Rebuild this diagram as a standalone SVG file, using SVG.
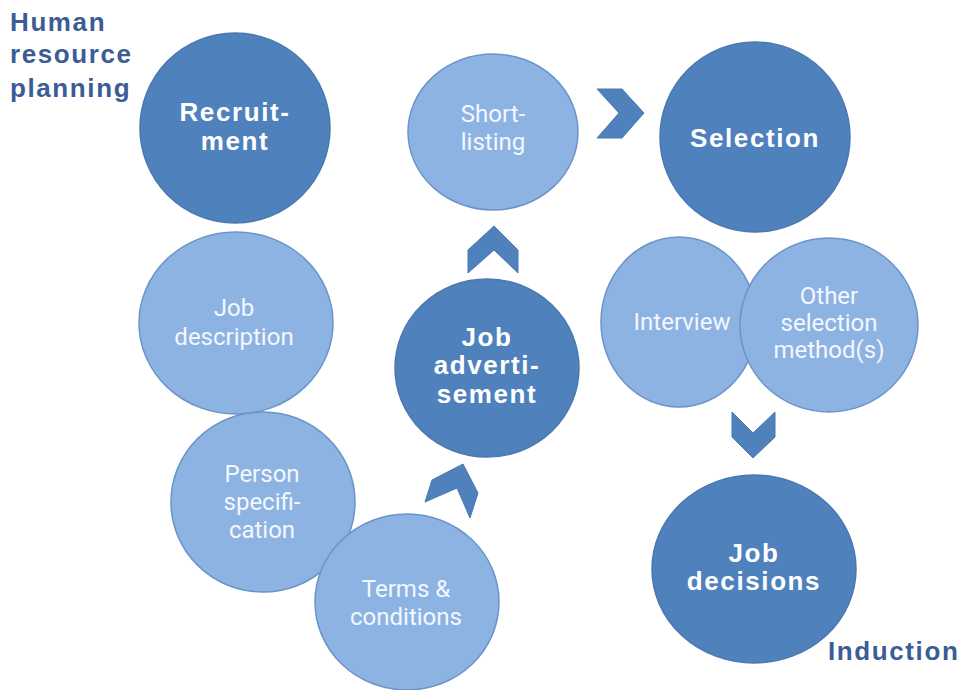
<svg xmlns="http://www.w3.org/2000/svg" width="963" height="690" viewBox="0 0 963 690">
<style>
.dark{fill:#4f81bd;stroke:#4a78b0;stroke-width:1.5}
.light{fill:#8db3e2;stroke:#6a94c9;stroke-width:1.5}
.chev{fill:#4f81bd;stroke:#4a78b0;stroke-width:1}
.bt{font-family:"Liberation Sans",Arial,sans-serif;font-weight:bold;font-size:26px;fill:#ffffff;text-anchor:middle;letter-spacing:1.6px}
.lt{font-family:Roboto,"Liberation Sans",sans-serif;font-weight:400;font-size:24px;fill:#f3f7ff;text-anchor:middle}
.title{font-family:"Liberation Sans",Arial,sans-serif;font-weight:bold;font-size:26px;fill:#3b5c94;letter-spacing:1.6px}
</style>
<rect width="963" height="690" fill="#ffffff"/>
<g id="title-hrp">
<text class="title" x="10" y="31">Human</text>
<text class="title" x="10" y="63">resource</text>
<text class="title" x="10" y="97">planning</text>
</g>
<g id="recruitment">
<circle class="dark" cx="235" cy="128" r="95"/>
<text class="bt" x="235" y="121">Recruit-</text>
<text class="bt" x="235" y="150">ment</text>
</g>
<g id="job-description">
<ellipse class="light" cx="236" cy="323" rx="97" ry="91"/>
<text class="lt" x="234" y="316">Job</text>
<text class="lt" x="234" y="345">description</text>
</g>
<g id="person-specification">
<ellipse class="light" cx="263" cy="502" rx="92" ry="90"/>
<text class="lt" x="262" y="482">Person</text>
<text class="lt" x="262" y="510">specifi-</text>
<text class="lt" x="262" y="538">cation</text>
</g>
<g id="terms-conditions">
<ellipse class="light" cx="407" cy="602" rx="92" ry="88"/>
<text class="lt" x="406" y="597">Terms &amp;</text>
<text class="lt" x="406" y="625">conditions</text>
</g>
<g id="job-advertisement">
<ellipse class="dark" cx="487" cy="368" rx="92" ry="89"/>
<text class="bt" x="487" y="346">Job</text>
<text class="bt" x="487" y="374">adverti-</text>
<text class="bt" x="487" y="403">sement</text>
</g>
<g id="short-listing">
<ellipse class="light" cx="493" cy="132" rx="85" ry="78"/>
<text class="lt" x="493" y="122">Short-</text>
<text class="lt" x="493" y="150">listing</text>
</g>
<g id="selection">
<circle class="dark" cx="755" cy="137" r="95"/>
<text class="bt" x="755" y="147">Selection</text>
</g>
<g id="interview">
<ellipse class="light" cx="679" cy="322" rx="78" ry="85"/>
<text class="lt" x="682" y="330">Interview</text>
</g>
<g id="other-selection">
<ellipse class="light" cx="829" cy="325" rx="89" ry="87"/>
<text class="lt" x="829" y="304">Other</text>
<text class="lt" x="829" y="331">selection</text>
<text class="lt" x="829" y="358">method(s)</text>
</g>
<g id="job-decisions">
<ellipse class="dark" cx="754" cy="569" rx="102" ry="94"/>
<text class="bt" x="754" y="562">Job</text>
<text class="bt" x="754" y="590">decisions</text>
</g>
<g id="title-induction">
<text class="title" x="828" y="660">Induction</text>
</g>
<g id="connectors">
<polygon class="chev" points="425,502 432,480 463,464 478,493 470,518 457,488"/>
<polygon class="chev" points="494,226 518,250 518,273 494,250 468,273 468,250"/>
<polygon class="chev" points="597,89 622,89 644,113 622,138 597,138 619,113"/>
<polygon class="chev" points="732,412 753,433 775,412 775,437 753,458 732,437"/>
</g>
</svg>
